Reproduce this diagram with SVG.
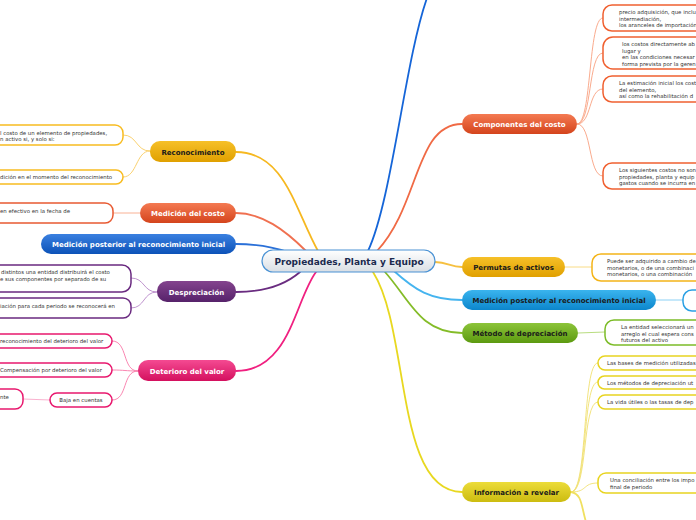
<svg xmlns="http://www.w3.org/2000/svg" width="696" height="520" viewBox="0 0 696 520">
<defs>
<linearGradient id="gCenter" x1="0" y1="0" x2="0" y2="1"><stop offset="0" stop-color="#ffffff"/><stop offset="1" stop-color="#d9dee4"/></linearGradient>
<linearGradient id="gOrange" x1="0" y1="0" x2="0" y2="1"><stop offset="0" stop-color="#f47a52"/><stop offset="1" stop-color="#d4441c"/></linearGradient>
<linearGradient id="gGold" x1="0" y1="0" x2="0" y2="1"><stop offset="0" stop-color="#f6c028"/><stop offset="1" stop-color="#e0a000"/></linearGradient>
<linearGradient id="gSky" x1="0" y1="0" x2="0" y2="1"><stop offset="0" stop-color="#3ab4ee"/><stop offset="1" stop-color="#0c86cc"/></linearGradient>
<linearGradient id="gBlue" x1="0" y1="0" x2="0" y2="1"><stop offset="0" stop-color="#3a80e0"/><stop offset="1" stop-color="#0c52b8"/></linearGradient>
<linearGradient id="gGreen" x1="0" y1="0" x2="0" y2="1"><stop offset="0" stop-color="#8cc43a"/><stop offset="1" stop-color="#5c9a10"/></linearGradient>
<linearGradient id="gYellow" x1="0" y1="0" x2="0" y2="1"><stop offset="0" stop-color="#ecdc3a"/><stop offset="1" stop-color="#ccbc10"/></linearGradient>
<linearGradient id="gPurple" x1="0" y1="0" x2="0" y2="1"><stop offset="0" stop-color="#84448e"/><stop offset="1" stop-color="#56226a"/></linearGradient>
<linearGradient id="gPink" x1="0" y1="0" x2="0" y2="1"><stop offset="0" stop-color="#f44a92"/><stop offset="1" stop-color="#d4105e"/></linearGradient>
</defs>
<style>
text{font-family:"DejaVu Sans","Liberation Sans",sans-serif}
.main{font-size:7px;font-weight:bold;text-anchor:middle}
.w{fill:#ffffff}
.d{fill:#1a1a1a}
.ct{font-size:9px;font-weight:bold;fill:#1b2a4e;text-anchor:middle}
.ch{font-size:5.4px;fill:#333333}
.box{fill:#ffffff;stroke-width:1.5}
.mc{fill:none;stroke-width:1.8;stroke-linecap:round}
.cc{fill:none;stroke-width:0.9}
</style>

<g id="connectors">
<path class="mc" stroke="#1565d8" d="M368,251 C392,200 405,60 427,-2"/>
<path class="mc" stroke="#f06a45" d="M377,251 C420,205 415,124 462,124"/>
<path class="mc" stroke="#f6c040" d="M435,262 C448,262 450,267 462,267"/>
<path class="mc" stroke="#45b4ef" d="M394,271 C415,290 430,300 462,300"/>
<path class="mc" stroke="#84bc28" d="M385,272 C410,300 420,333 462,333"/>
<path class="mc" stroke="#e8d820" d="M373,272 C410,330 395,492 462,492"/>
<path class="mc" stroke="#f6b820" d="M318,251 C295,210 285,152 236,152"/>
<path class="mc" stroke="#f07050" d="M306,251 C285,230 262,213 236,213"/>
<path class="mc" stroke="#2a70d8" d="M288,252 C270,246 255,244 236,244"/>
<path class="mc" stroke="#6a2c80" d="M300,272 C285,285 262,292 236,292"/>
<path class="mc" stroke="#f02080" d="M316,272 C295,300 290,371 236,371"/>
<path class="cc" stroke="#f8cc60" d="M150,151 C136,151 137,135 123,135"/>
<path class="cc" stroke="#f8cc60" d="M150,151 C136,151 137,177 123,177"/>
<path class="cc" stroke="#f8a888" d="M140,213 L113,213"/>
<path class="cc" stroke="#b888c8" d="M157,292 C143,292 145,278 131,278"/>
<path class="cc" stroke="#b888c8" d="M157,292 C143,292 145,308 131,308"/>
<path class="cc" stroke="#f878a8" d="M138,371 C122,371 128,341 112,341"/>
<path class="cc" stroke="#f878a8" d="M138,371 C125,371 125,370 112,370"/>
<path class="cc" stroke="#f878a8" d="M138,371 C122,371 128,400 112,400"/>
<path class="cc" stroke="#f8a8c8" d="M50,400 L23,399"/>
<path class="cc" stroke="#f8a080" d="M577,124 C592,124 588,18 603,18"/>
<path class="cc" stroke="#f8a080" d="M577,124 C592,124 588,53 603,53"/>
<path class="cc" stroke="#f8a080" d="M577,124 C592,124 588,89 603,89"/>
<path class="cc" stroke="#f8a080" d="M577,124 C592,124 588,176 603,176"/>
<path class="cc" stroke="#f8d878" d="M565,267 L592,267"/>
<path class="cc" stroke="#80ccf4" d="M656,300 L683,300"/>
<path class="cc" stroke="#b0d870" d="M578,333 L605,332"/>
<path class="cc" stroke="#f0e070" d="M571,492 C588,492 582,363 598,363"/>
<path class="cc" stroke="#f0e070" d="M571,492 C588,492 582,382 598,382"/>
<path class="cc" stroke="#f0e070" d="M571,492 C588,492 582,402 598,402"/>
<path class="cc" stroke="#f0e070" d="M571,492 C588,492 582,483 598,483"/>
<path class="mc" stroke="#f0e060" d="M571,492 C582,494 581,505 586,522"/>
</g>

<g id="center">
<rect x="262" y="250" width="173" height="22" rx="11" fill="url(#gCenter)" stroke="#4a92d4" stroke-width="1.2"/>
<text class="ct" x="349" y="265">Propiedades, Planta y Equipo</text>
</g>

<g id="n-componentes">
<rect x="462" y="114" width="115" height="20" rx="10" fill="url(#gOrange)"/>
<text class="main w" x="519.5" y="127">Componentes del costo</text>
</g>
<g id="n-permutas">
<rect x="462" y="257" width="103" height="20" rx="10" fill="url(#gGold)"/>
<text class="main d" x="513.5" y="270">Permutas de activos</text>
</g>
<g id="n-medpost-r">
<rect x="462" y="290" width="194" height="20" rx="10" fill="url(#gSky)"/>
<text class="main d" x="559" y="303">Medición posterior al reconocimiento inicial</text>
</g>
<g id="n-metodo">
<rect x="462" y="323" width="116" height="20" rx="10" fill="url(#gGreen)"/>
<text class="main d" x="520" y="336">Método de depreciación</text>
</g>
<g id="n-informacion">
<rect x="462" y="482" width="109" height="20" rx="10" fill="url(#gYellow)"/>
<text class="main d" x="516.5" y="495">Información a revelar</text>
</g>
<g id="n-reconocimiento">
<rect x="150" y="141" width="86" height="21" rx="10" fill="url(#gGold)"/>
<text class="main d" x="193" y="154.5">Reconocimiento</text>
</g>
<g id="n-medcosto">
<rect x="140" y="203" width="96" height="20" rx="10" fill="url(#gOrange)"/>
<text class="main w" x="188" y="216">Medición del costo</text>
</g>
<g id="n-medpost-l">
<rect x="41" y="234" width="195" height="20" rx="10" fill="url(#gBlue)"/>
<text class="main w" x="138.5" y="247">Medición posterior al reconocimiento inicial</text>
</g>
<g id="n-despreciacion">
<rect x="157" y="281" width="79" height="21" rx="10" fill="url(#gPurple)"/>
<text class="main w" x="196.5" y="294.5">Despreciación</text>
</g>
<g id="n-deterioro">
<rect x="138" y="360" width="98" height="21" rx="10" fill="url(#gPink)"/>
<text class="main w" x="187" y="373.5">Deterioro del valor</text>
</g>

<g id="c-rec1">
<rect class="box" x="-20" y="125" width="143" height="20" rx="8" stroke="#f8bc20"/>
<text class="ch" x="0" y="135">l costo de un elemento de propiedades,</text>
<text class="ch" x="0" y="141">n activo si, y solo si:</text>
</g>
<g id="c-rec2">
<rect class="box" x="-20" y="170" width="143" height="14" rx="7" stroke="#f8bc20"/>
<text class="ch" x="0" y="179">dición en el momento del reconocimiento</text>
</g>
<g id="c-medcosto1">
<rect class="box" x="-20" y="203" width="133" height="20" rx="8" stroke="#e85a32"/>
<text class="ch" x="0" y="213">en efectivo en la fecha de</text>
</g>
<g id="c-desp1">
<rect class="box" x="-20" y="265" width="151" height="27" rx="9" stroke="#6a2a80"/>
<text class="ch" x="1" y="274">distintos una entidad distribuirá el costo</text>
<text class="ch" x="0" y="281">e sus componentes por separado de su</text>
</g>
<g id="c-desp2">
<rect class="box" x="-20" y="298" width="151" height="20" rx="8" stroke="#6a2a80"/>
<text class="ch" x="0" y="308">iación para cada periodo se reconocerá en</text>
</g>
<g id="c-det1">
<rect class="box" x="-20" y="334" width="132" height="14" rx="7" stroke="#e8186e"/>
<text class="ch" x="0" y="343">reconocimiento del deterioro del valor</text>
</g>
<g id="c-det2">
<rect class="box" x="-20" y="363" width="132" height="14" rx="7" stroke="#e8186e"/>
<text class="ch" x="0" y="372">Compensación por deterioro del valor</text>
</g>
<g id="c-baja">
<rect class="box" x="50" y="393" width="62" height="14" rx="7" stroke="#e8186e"/>
<text class="ch" x="81" y="402" text-anchor="middle">Baja en cuentas</text>
</g>
<g id="c-baja1">
<rect class="box" x="-20" y="389" width="43" height="20" rx="8" stroke="#e8186e"/>
<text class="ch" x="0" y="399">nte</text>
</g>

<g id="c-comp1">
<rect class="box" x="603" y="5" width="120" height="26" rx="9" stroke="#f06030"/>
<text class="ch" x="619" y="14">precio adquisición, que inclu</text>
<text class="ch" x="619" y="20.5">intermediación,</text>
<text class="ch" x="619" y="27">los aranceles de importación</text>
</g>
<g id="c-comp2">
<rect class="box" x="603" y="37" width="120" height="32" rx="10" stroke="#f06030"/>
<text class="ch" x="622" y="46">los costos directamente ab</text>
<text class="ch" x="622" y="52.5">lugar y</text>
<text class="ch" x="622" y="59">en las condiciones necesar</text>
<text class="ch" x="622" y="65.5">forma prevista por la geren</text>
</g>
<g id="c-comp3">
<rect class="box" x="603" y="76" width="120" height="26" rx="9" stroke="#f06030"/>
<text class="ch" x="619" y="85">La estimación inicial los cost</text>
<text class="ch" x="619" y="91.5">del elemento,</text>
<text class="ch" x="619" y="98">así como la rehabilitación d</text>
</g>
<g id="c-comp4">
<rect class="box" x="603" y="163" width="120" height="26" rx="9" stroke="#f06030"/>
<text class="ch" x="619" y="172">Los siguientes costos no son</text>
<text class="ch" x="619" y="178.5">propiedades, planta y equip</text>
<text class="ch" x="619" y="185">gastos cuando se incurra en</text>
</g>
<g id="c-perm1">
<rect class="box" x="592" y="254" width="130" height="27" rx="9" stroke="#f4b418"/>
<text class="ch" x="607" y="263">Puede ser adquirido a cambio de</text>
<text class="ch" x="607" y="269.5">monetarios, o de una combinaci</text>
<text class="ch" x="607" y="276">monetarios, o una combinación</text>
</g>
<g id="c-medpost1">
<rect class="box" x="683" y="290" width="40" height="21" rx="9" stroke="#2aa0e4"/>
</g>
<g id="c-metodo1">
<rect class="box" x="605" y="320" width="120" height="25" rx="9" stroke="#7cbc28"/>
<text class="ch" x="621" y="329">La entidad seleccionará un</text>
<text class="ch" x="621" y="335.5">arreglo el cual espera cons</text>
<text class="ch" x="621" y="342">futuros del activo</text>
</g>
<g id="c-info1">
<rect class="box" x="598" y="356" width="120" height="14" rx="7" stroke="#e8d420"/>
<text class="ch" x="607" y="365">Las bases de medición utilizadas</text>
</g>
<g id="c-info2">
<rect class="box" x="598" y="376" width="120" height="13" rx="6.5" stroke="#e8d420"/>
<text class="ch" x="607" y="384.5">Los métodos de depreciación ut</text>
</g>
<g id="c-info3">
<rect class="box" x="598" y="395" width="120" height="14" rx="7" stroke="#e8d420"/>
<text class="ch" x="607" y="404">La vida útiles o las tasas de dep</text>
</g>
<g id="c-info4">
<rect class="box" x="598" y="473" width="120" height="20" rx="8" stroke="#e8d420"/>
<text class="ch" x="610" y="482">Una conciliación entre los impo</text>
<text class="ch" x="610" y="488.5">final de periodo</text>
</g>
</svg>
